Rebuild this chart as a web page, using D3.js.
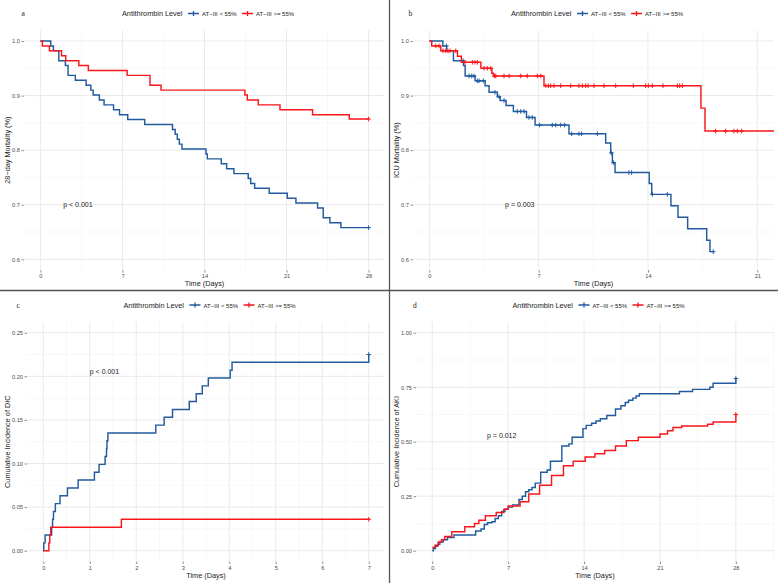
<!DOCTYPE html>
<html>
<head>
<meta charset="utf-8">
<script src="https://cdn.jsdelivr.net/npm/d3@7"></script>
<style>
  body { margin: 0; background: #fff; }
  text { font-family: "Liberation Sans", Arial, sans-serif; }
</style>
</head>
<body>
<svg id="chart" width="778" height="583"></svg>
<script>
// ---- data: [time (days), value] step points ----
const aLow = [[0,1],[0.88,0.991],[1.11,0.982],[1.57,0.964],[2.13,0.955],[2.36,0.937],[2.98,0.928],[3.9,0.919],[4.3,0.910],[4.5,0.901],[5.03,0.892],[5.43,0.883],[6.24,0.874],[6.75,0.865],[7.45,0.856],[8.9,0.847],[11.27,0.838],[11.5,0.829],[11.68,0.820],[11.85,0.811],[12.08,0.802],[14.13,0.793],[14.24,0.784],[15.43,0.775],[15.89,0.766],[16.51,0.757],[17.73,0.748],[17.94,0.739],[18.28,0.730],[19.52,0.721],[21.06,0.712],[21.8,0.703],[23.65,0.694],[24.13,0.676],[24.7,0.667],[25.64,0.658],[28,0.658]];
const aHigh = [[0,1],[0.17,0.991],[0.77,0.982],[1.8,0.973],[2.16,0.964],[3.28,0.955],[4.09,0.946],[7.4,0.937],[9.35,0.919],[10.29,0.910],[17.45,0.901],[17.65,0.892],[18.59,0.883],[20.44,0.874],[23.22,0.865],[26.35,0.857],[28,0.857]];
const aLowCens = [28];
const aHighCens = [28];

const bLow = [[0,1],[0.86,0.991],[1.11,0.982],[1.54,0.964],[2.18,0.955],[2.29,0.936],[2.93,0.927],[3.57,0.918],[3.82,0.906],[4.35,0.898],[4.53,0.891],[4.91,0.882],[5.38,0.871],[6.22,0.860],[6.77,0.846],[8.94,0.830],[11.29,0.813],[11.61,0.795],[11.72,0.777],[11.89,0.759],[14.08,0.739],[14.24,0.719],[15.47,0.698],[15.92,0.677],[16.54,0.656],[17.76,0.635],[17.97,0.614],[18.18,0.614]];
const bHigh = [[0,1],[0.15,0.991],[0.73,0.982],[1.8,0.972],[2.05,0.961],[3.3,0.950],[4.0,0.941],[4.1,0.936],[7.34,0.918],[17.39,0.877],[17.65,0.835],[22.5,0.835]];
const bLowCens = [1.09,2.16,2.54,2.71,2.86,3.07,3.18,3.45,4.2,4.46,4.78,5.63,5.85,6.06,6.38,6.59,7.06,7.87,8.09,8.41,8.66,9.11,9.58,9.75,10.76,11.65,11.8,12.78,12.95,14.28,15.24,18.18];
const bHighCens = [0.41,0.62,0.87,1.05,1.19,1.32,1.69,2.28,2.75,2.92,3.07,3.5,3.71,3.93,4.16,4.25,4.78,5.1,5.85,6.27,6.91,7.13,7.45,7.62,7.77,7.98,8.41,9.05,9.58,9.8,10.01,10.16,10.54,11.18,11.93,13.06,13.85,14.02,14.28,14.96,15.88,16.03,16.2,18.33,18.97,19.5,19.72,20.0];

const cLow = [[0,0],[0.01,0.009],[0.04,0.018],[0.18,0.027],[0.2,0.036],[0.22,0.045],[0.26,0.054],[0.36,0.063],[0.52,0.072],[0.75,0.081],[1.1,0.090],[1.2,0.099],[1.33,0.108],[1.36,0.117],[1.37,0.126],[1.39,0.135],[2.42,0.144],[2.6,0.153],[2.78,0.162],[3.14,0.171],[3.29,0.180],[3.42,0.189],[3.55,0.198],[4.02,0.207],[4.06,0.216],[7,0.225]];
const cHigh = [[0,0],[0.12,0.009],[0.14,0.018],[0.16,0.027],[1.68,0.036],[7,0.036]];
const cLowCens = [7];
const cHighCens = [7];

const dLow = [[0,0],[0.1,0.01],[0.3,0.02],[0.5,0.03],[0.7,0.04],[1.0,0.05],[1.4,0.06],[2.0,0.072],[4.0,0.09],[4.5,0.10],[4.8,0.12],[5.1,0.128],[5.5,0.133],[5.8,0.148],[6.1,0.16],[6.4,0.18],[6.7,0.19],[7.0,0.2],[7.4,0.21],[8.0,0.235],[8.3,0.25],[8.6,0.27],[8.9,0.28],[9.2,0.29],[9.5,0.31],[10.0,0.36],[10.6,0.37],[10.9,0.41],[11.95,0.48],[12.6,0.49],[12.9,0.52],[13.9,0.56],[14.2,0.575],[14.7,0.585],[15.1,0.595],[15.5,0.605],[16.1,0.62],[16.9,0.65],[17.4,0.665],[17.8,0.68],[18.1,0.69],[18.5,0.70],[18.8,0.71],[19.1,0.72],[22.8,0.73],[24.0,0.74],[25.6,0.75],[25.9,0.768],[28,0.79]];
const dHigh = [[0,0.015],[0.25,0.025],[0.55,0.04],[0.85,0.05],[1.15,0.065],[1.8,0.087],[3.0,0.11],[3.9,0.125],[4.3,0.14],[4.9,0.16],[5.9,0.175],[6.6,0.19],[7.0,0.205],[8.1,0.225],[8.9,0.26],[9.9,0.30],[11.0,0.345],[12.1,0.39],[13.0,0.41],[14.1,0.43],[15.0,0.445],[15.9,0.46],[16.9,0.48],[17.9,0.505],[19.0,0.52],[21.0,0.535],[21.7,0.55],[22.2,0.565],[23.0,0.572],[25.4,0.58],[25.9,0.59],[28,0.625]];
const dLowCens = [28];
const dHighCens = [28];

// ticks
const ticksWeek = [0, 7, 14, 21, 28];
const ticksWeekMinor = [3.5, 10.5, 17.5, 24.5, 31.5];
const ticksDay = [0, 1, 2, 3, 4, 5, 6, 7];
const ticksDayMinor = [0.5, 1.5, 2.5, 3.5, 4.5, 5.5, 6.5];
const ticksMort = [0.6, 0.7, 0.8, 0.9, 1.0];
const ticksMortMinor = [0.65, 0.75, 0.85, 0.95];
const ticksDic = [0, 0.05, 0.10, 0.15, 0.20, 0.25];
const ticksDicMinor = [0.025, 0.075, 0.125, 0.175, 0.225];
const ticksAki = [0, 0.25, 0.5, 0.75, 1.0];
const ticksAkiMinor = [0.125, 0.375, 0.625, 0.875];

const legendTitle = "Antithrombin Level";
const groups = ["AT\u2212III < 55%", "AT\u2212III >= 55%"];

const blue = "#215a9f", red = "#f8161b";

const svg = d3.select("#chart");

function stepValue(series, t) {
  let v = series[0][1];
  series.forEach((p) => { if (p[0] <= t) v = p[1]; });
  return v;
}

function drawPanel(p) {
  const x = d3.scaleLinear().domain(p.xDomain).range(p.xRange);
  const y = d3.scaleLinear().domain(p.yDomain).range(p.yRange);
  const left = p.xRange[0], right = p.xRange[1];
  const bottom = p.yRange[0], top = p.yRange[1];
  const g = svg.append("g");

  // grid
  g.selectAll("line.vmin").data(p.xMinor.filter((d) => x(d) <= right + 0.5))
    .join("line").attr("x1", (d) => x(d)).attr("x2", (d) => x(d))
    .attr("y1", top).attr("y2", bottom).attr("stroke", "#f1f1f1").attr("stroke-width", 0.6);
  g.selectAll("line.hmin").data(p.yMinor)
    .join("line").attr("y1", (d) => y(d)).attr("y2", (d) => y(d))
    .attr("x1", left).attr("x2", right).attr("stroke", "#f1f1f1").attr("stroke-width", 0.6);
  g.selectAll("line.vmaj").data(p.xTicks)
    .join("line").attr("x1", (d) => x(d)).attr("x2", (d) => x(d))
    .attr("y1", top).attr("y2", bottom).attr("stroke", "#e8e8e8").attr("stroke-width", 0.9);
  g.selectAll("line.hmaj").data(p.yTicks)
    .join("line").attr("y1", (d) => y(d)).attr("y2", (d) => y(d))
    .attr("x1", left).attr("x2", right).attr("stroke", "#e8e8e8").attr("stroke-width", 0.9);

  // axes
  const yAxis = d3.axisLeft(y).tickValues(p.yTicks).tickFormat(p.yFmt).tickSize(2.5).tickPadding(1.5);
  const xAxis = d3.axisBottom(x).tickValues(p.xTicks).tickFormat(d3.format("d")).tickSize(2.5).tickPadding(1.5);
  const ya = g.append("g").attr("transform", `translate(${left},0)`).call(yAxis);
  const xa = g.append("g").attr("transform", `translate(0,${bottom})`).call(xAxis);
  [ya, xa].forEach((a) => {
    a.select("path.domain").remove();
    a.selectAll("line").attr("stroke", "#444").attr("stroke-width", 0.6);
    a.selectAll("text").attr("fill", "#4d4d4d").style("font-size", "5.7px")
      .style("font-family", '"Liberation Sans", Arial, sans-serif');
  });

  // axis titles
  g.append("text").attr("x", (left + right) / 2).attr("y", bottom + 16)
    .attr("text-anchor", "middle").style("font-size", "7.3px").attr("fill", "#1a1a1a")
    .text("Time (Days)");
  g.append("text").attr("transform", `translate(${p.ox + 9.8},${(top + bottom) / 2}) rotate(-90)`)
    .attr("text-anchor", "middle").style("font-size", "7.3px").attr("fill", "#1a1a1a")
    .text(p.yTitle);

  // curves
  const clipId = "clip-" + p.letter;
  svg.append("clipPath").attr("id", clipId).append("rect")
    .attr("x", left).attr("y", top - 4).attr("width", right - left).attr("height", bottom - top + 8);
  const line = d3.line().x((d) => x(d[0])).y((d) => y(d[1])).curve(d3.curveStepAfter);
  const cg = g.append("g").attr("clip-path", `url(#${clipId})`);
  [[p.low, p.lowCens, blue], [p.high, p.highCens, red]].forEach(([s, cens, col]) => {
    cg.append("path").datum(s).attr("d", line).attr("fill", "none")
      .attr("stroke", col).attr("stroke-width", 1.45);
    cg.selectAll(null).data(cens).join("path")
      .attr("d", (t) => {
        const cx = x(t), cy = y(stepValue(s, t));
        return `M${cx - 2.3},${cy}h4.6M${cx},${cy - 2.3}v4.6`;
      })
      .attr("stroke", col).attr("stroke-width", 1).attr("fill", "none");
  });

  // p value
  g.append("text").attr("x", x(p.pPos[0])).attr("y", y(p.pPos[1]))
    .attr("dy", "0.35em").style("font-size", "7px").attr("fill", "#1a1a1a").text(p.pText);

  // panel letter
  g.append("text").attr("x", p.ox + p.letterDx).attr("y", p.legendY)
    .style("font-family", '"Liberation Serif", "Times New Roman", serif')
    .style("font-size", "7.5px").attr("fill", "#1a1a1a").text(p.letter);

  // legend
  const lx = p.ox + p.legendDx, ly = p.legendY;
  g.append("text").attr("x", lx).attr("y", ly).style("font-size", "7.3px").attr("fill", "#1a1a1a").text(legendTitle);
  const keys = [[lx + 66, blue, groups[0]], [lx + 120, red, groups[1]]];
  keys.forEach(([kx, col, label]) => {
    g.append("path").attr("d", `M${kx},${ly - 2.5}h11M${kx + 5.5},${ly - 5}v5`)
      .attr("stroke", col).attr("stroke-width", 1.3).attr("fill", "none");
    g.append("text").attr("x", kx + 14).attr("y", ly).style("font-size", "6px").attr("fill", "#1a1a1a").text(label);
  });
}

const panels = [
  { letter: "a", ox: 0, letterDx: 21.5, legendDx: 122, legendY: 16,
    xDomain: [-1.4, 29.4], xRange: [24, 385], yDomain: [0.58, 1.02], yRange: [270.2, 30.1],
    xTicks: ticksWeek, xMinor: ticksWeekMinor, yTicks: ticksMort, yMinor: ticksMortMinor,
    yFmt: d3.format(".1f"), yTitle: "28\u2212day Mortality (%)",
    low: aLow, high: aHigh, lowCens: aLowCens, highCens: aHighCens,
    pText: "p < 0.001", pPos: [1.95, 0.7] },
  { letter: "b", ox: 389, letterDx: 19.5, legendDx: 122, legendY: 16,
    xDomain: [-1.05, 22.07], xRange: [413, 774], yDomain: [0.58, 1.02], yRange: [270.2, 30.1],
    xTicks: [0, 7, 14, 21], xMinor: [3.5, 10.5, 17.5], yTicks: ticksMort, yMinor: ticksMortMinor,
    yFmt: d3.format(".1f"), yTitle: "ICU Mortality (%)",
    low: bLow, high: bHigh, lowCens: bLowCens, highCens: bHighCens,
    pText: "p = 0.003", pPos: [4.85, 0.7] },
  { letter: "c", ox: 0, letterDx: 16.5, legendDx: 123.5, legendY: 307.5,
    xDomain: [-0.35, 7.35], xRange: [27, 385], yDomain: [-0.0125, 0.2625], yRange: [561.6, 321.8],
    xTicks: ticksDay, xMinor: ticksDayMinor, yTicks: ticksDic, yMinor: ticksDicMinor,
    yFmt: d3.format(".2f"), yTitle: "Cumulative Incidence of DIC",
    low: cLow, high: cHigh, lowCens: cLowCens, highCens: cHighCens,
    pText: "p < 0.001", pPos: [1.0, 0.206] },
  { letter: "d", ox: 389, letterDx: 24, legendDx: 123.5, legendY: 307.5,
    xDomain: [-1.5, 31.5], xRange: [416, 773.8], yDomain: [-0.05, 1.05], yRange: [561.6, 321.8],
    xTicks: ticksWeek, xMinor: ticksWeekMinor, yTicks: ticksAki, yMinor: ticksAkiMinor,
    yFmt: d3.format(".2f"), yTitle: "Cumulative Incidence of AKI",
    low: dLow, high: dHigh, lowCens: dLowCens, highCens: dHighCens,
    pText: "p = 0.012", pPos: [5.05, 0.526] }
];

panels.forEach(drawPanel);

// panel separators
svg.append("line").attr("x1", 389.5).attr("x2", 389.5).attr("y1", 0).attr("y2", 583)
  .attr("stroke", "#555").attr("stroke-width", 1.3);
svg.append("line").attr("x1", 0).attr("x2", 778).attr("y1", 290.5).attr("y2", 290.5)
  .attr("stroke", "#555").attr("stroke-width", 1.3);
</script>
</body>
</html>
